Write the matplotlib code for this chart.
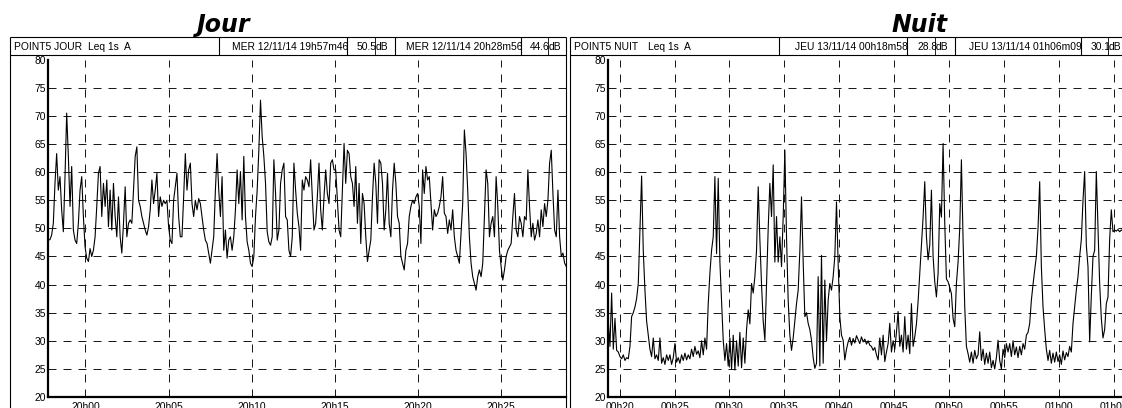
import matplotlib
matplotlib.use("Agg")
import matplotlib.pyplot as plt
import numpy as np
from matplotlib.lines import Line2D

plt.rcParams['font.family'] = ['Liberation Sans', 'DejaVu Sans']

# ---------------- data ----------------
jour_title = "Jour"
nuit_title = "Nuit"
jour_header = ["POINT5 JOUR", "Leq 1s  A", "MER 12/11/14 19h57m46", "50.5", "MER 12/11/14 20h28m56", "44.6"]
nuit_header = ["POINT5 NUIT", "Leq 1s  A", "JEU 13/11/14 00h18m58", "28.8", "JEU 13/11/14 01h06m09", "30.1"]
jour_start, jour_end = "19:57:46", "20:28:56"
nuit_start, nuit_end = "00:18:58", "01:06:09"
jour_ticks = ["20h00", "20h05", "20h10", "20h15", "20h20", "20h25"]
nuit_ticks = ["00h20", "00h25", "00h30", "00h35", "00h40", "00h45", "00h50", "00h55", "01h00", "01h05"]
y_ticks = [20, 25, 30, 35, 40, 45, 50, 55, 60, 65, 70, 75, 80]

jour_db = [
    47.9, 48.0, 48.8, 50.9, 58.0, 63.3, 56.8, 59.2, 53.3, 49.4,
    59.2, 70.5, 62.8, 53.9, 61.0, 49.7, 47.9, 47.3, 50.9, 56.8,
    59.2, 52.1, 46.7, 44.7, 44.1, 46.4, 45.0, 46.1, 48.5, 53.9,
    59.8, 61.0, 52.1, 58.0, 53.9, 58.6, 50.3, 56.8, 49.7, 58.0,
    52.1, 48.5, 55.6, 48.5, 45.6, 50.9, 57.4, 48.5, 50.9, 51.5,
    50.9, 56.8, 62.8, 64.5, 55.0, 53.9, 52.1, 50.9, 49.7, 48.8,
    50.3, 53.3, 58.6, 54.4, 56.8, 59.8, 52.1, 55.6, 53.9, 55.0,
    54.4, 55.0, 50.3, 47.9, 47.3, 55.0, 57.4, 59.8, 52.1, 48.5,
    48.5, 55.6, 63.3, 56.8, 60.4, 61.6, 54.4, 52.1, 55.0, 53.3,
    55.3, 54.4, 52.1, 49.7, 47.9, 47.3, 45.6, 43.8, 46.1, 48.5,
    56.8, 63.3, 56.8, 52.1, 59.2, 46.1, 49.7, 44.7, 47.9, 48.5,
    46.1, 48.5, 53.3, 60.4, 54.4, 60.1, 51.5, 62.8, 52.1, 47.6,
    46.1, 43.8, 43.2, 45.0, 52.1, 56.8, 63.9, 72.8, 66.3, 62.8,
    58.0, 49.4, 47.6, 47.0, 48.5, 62.2, 56.2, 47.9, 49.7, 58.0,
    60.4, 61.6, 52.1, 51.5, 46.1, 45.0, 48.5, 61.6, 56.8, 52.7,
    50.3, 46.1,
    58.6, 56.8, 59.2, 58.6, 57.4, 62.2, 55.6, 49.7, 50.9, 55.6,
    61.6, 53.3, 49.7, 55.6, 60.4, 56.2, 54.4, 61.6, 62.2, 60.4,
    60.4, 55.0, 49.7, 48.5, 56.8, 65.1, 58.0, 63.9, 63.3, 59.2,
    58.0, 53.9, 61.0, 50.9, 58.0, 47.3, 56.2, 54.4, 48.5, 44.1,
    46.1, 47.9, 55.6, 61.6, 58.0, 50.9, 62.2, 61.6, 58.0, 49.7,
    53.3, 59.8, 50.9, 48.5, 56.8, 61.6, 58.0, 52.1, 50.9, 45.0,
    43.8, 42.6, 46.1, 47.3, 52.1, 53.9, 55.0, 54.4, 55.6, 56.2,
    53.9, 47.3, 60.4, 56.2, 61.0, 58.6, 59.2, 54.4, 49.7, 53.3,
    52.1, 52.7, 53.9, 55.6, 59.2, 52.7, 52.1, 49.1, 51.5, 49.7,
    53.3, 48.5, 46.1, 45.0, 43.8, 49.1, 54.4, 67.5, 63.3, 56.8,
    48.5, 43.8, 41.4, 40.2, 39.0, 41.4, 42.6, 41.4, 43.8, 52.1,
    60.4, 58.0, 48.5, 50.9, 52.1, 48.5, 59.2, 53.9, 46.1, 43.2,
    40.8, 42.6, 45.0, 46.1, 46.7, 47.3, 52.1, 56.2, 49.7, 48.5,
    52.1, 50.9, 48.5, 52.1, 51.5, 60.4, 53.9, 48.5, 50.9, 47.9,
    49.1, 51.5, 48.5, 53.3, 50.3, 54.4, 52.1, 55.0, 61.6, 63.9,
    56.2, 49.7, 48.5, 56.8, 48.5, 45.0, 45.6, 43.8, 43.2,
]

nuit_db = [
    33.5, 29.0, 38.5, 28.5, 34.0, 28.3,
    28.0, 27.2, 26.8, 27.5, 26.5, 27.0,
    26.8, 29.0, 34.3, 35.0, 36.0, 37.5,
    40.2, 50.0, 59.3, 46.0, 39.0, 33.5,
    31.0, 28.5, 27.2, 30.5, 26.8, 27.5,
    26.5, 30.5, 26.0, 27.0, 25.8, 27.5,
    26.5, 27.5, 25.8, 27.0, 29.5, 26.2,
    27.0, 26.0, 27.5, 26.5, 27.8, 26.6,
    27.5, 26.8, 28.5, 27.2, 29.0, 27.6,
    28.2, 27.0, 30.0, 27.5, 30.5, 28.5,
    36.6, 42.0, 46.1, 48.5, 59.2, 45.5,
    58.9, 44.0, 37.0, 30.1, 26.5, 29.5,
    25.5, 30.5, 25.0, 31.0, 24.8, 30.0,
    25.5, 31.5, 25.2, 30.5, 26.0, 32.0,
    35.5, 33.0, 40.2, 38.5, 41.4, 46.1,
    57.4, 48.0, 40.0, 33.5, 30.1, 40.0,
    50.0, 58.0, 52.1, 61.3, 44.0, 52.1,
    44.0, 48.5, 43.2, 52.0, 63.9, 48.5,
    37.2, 31.0, 28.3, 30.5, 33.5, 36.6,
    39.0, 46.0, 55.6, 44.0, 34.3, 35.0,
    33.1, 32.0, 30.1, 27.0, 25.1, 26.0,
    41.4, 25.5, 45.2, 26.0, 40.8, 30.0,
    37.2, 40.2, 39.0, 41.4, 45.0, 54.7,
    43.8, 34.3, 31.0, 30.1, 26.6, 28.5,
    29.8, 30.6, 29.2, 30.4, 29.6, 30.9,
    30.2, 29.5, 30.7, 29.8, 30.3, 29.4,
    30.0, 29.2, 29.0, 28.3, 28.8, 27.5,
    26.6, 30.5, 27.5, 31.0, 26.3, 28.0,
    29.5, 33.1, 28.0, 30.0, 28.5, 31.5,
    35.2, 29.0, 31.0, 28.0, 34.3, 28.5,
    31.0, 27.7, 36.6, 29.0, 30.7, 33.0,
    37.0, 42.0, 46.7, 52.0, 58.3, 48.5,
    44.4, 47.0, 56.8, 45.0, 40.5, 37.8,
    42.0, 54.4, 52.0, 65.1, 50.9, 41.0,
    40.5, 39.5, 38.4, 34.0, 32.5, 40.2,
    44.0, 50.0, 62.2, 48.0, 36.0, 29.0,
    27.7, 26.2, 28.0, 26.0, 28.3, 26.8,
    27.5, 31.6, 26.5, 28.5, 25.8, 27.8,
    26.0, 28.0, 25.2, 26.5, 25.0, 27.0,
    30.1, 26.5, 25.0, 28.5, 27.0, 29.5,
    28.0, 29.5, 27.2, 30.0, 27.5, 28.9,
    27.0, 29.0, 27.5, 29.5, 28.5, 31.0,
    31.5, 33.1, 37.2, 40.0, 42.6, 45.0,
    50.0, 58.3, 43.2, 36.0, 32.0, 28.5,
    26.5, 28.3, 26.0, 27.8, 26.2, 28.0,
    26.3, 27.5, 25.8, 28.2, 26.6, 27.9,
    27.2, 29.0, 28.0, 33.1, 36.0, 39.0,
    41.4, 45.0, 48.0, 55.0, 60.1, 47.0,
    43.2, 29.8, 38.0, 45.0, 46.1, 60.1,
    50.0, 40.2, 34.0, 30.5, 32.0, 36.6,
    37.8, 48.0, 53.3, 49.4, 49.7, 49.5,
    49.8, 49.4, 49.7, 49.5, 49.6, 49.5,
]


def hms(s):
    p = [int(v) for v in s.split(":")]
    return p[0] * 3600 + p[1] * 60 + p[2]


def hm_label(s):
    h, m = s.split("h")
    return int(h) * 3600 + int(m) * 60


# ---------------- layout (pixels) ----------------
W, H = 1122, 408
fig = plt.figure(figsize=(W / 100, H / 100), dpi=100)
fig.patch.set_facecolor("white")


def fx(px):
    return px / W


def fy(py):
    return 1 - py / H


def fline(x0, y0, x1, y1, lw=0.8):
    fig.add_artist(Line2D([fx(x0), fx(x1)], [fy(y0), fy(y1)], color="black",
                          lw=lw, solid_capstyle="butt"))


TXT = 7.4


def panel(dx, title, title_x, header, start, end, ticks, values):
    # outer frame and header
    fline(10 + dx, 37, 10 + dx, 430)
    fline(566 + dx, 37, 566 + dx, 430)
    fline(10 + dx, 37, 566 + dx, 37)
    fline(10 + dx, 55, 566 + dx, 55)
    for xs in (219, 347, 395, 521):
        fline(xs + dx, 37, xs + dx, 55)
    for xs in (375, 548):
        fline(xs + dx, 37, xs + dx, 55, lw=0.6)
    ty = fy(46.5)
    fig.text(fx(14 + dx), ty, header[0], fontsize=TXT, va="center", ha="left")
    fig.text(fx(88 + dx), ty, header[1], fontsize=TXT, va="center", ha="left")
    fig.text(fx(348 + dx), ty, header[2], fontsize=TXT, va="center", ha="right")
    fig.text(fx(377 + dx), ty, header[3], fontsize=TXT, va="center", ha="right")
    fig.text(fx(376 + dx), ty, "dB", fontsize=TXT, va="center", ha="left")
    fig.text(fx(522 + dx), ty, header[4], fontsize=TXT, va="center", ha="right")
    fig.text(fx(550 + dx), ty, header[5], fontsize=TXT, va="center", ha="right")
    fig.text(fx(549 + dx), ty, "dB", fontsize=TXT, va="center", ha="left")

    fig.text(fx(title_x), fy(25.0), title, fontsize=17, fontweight="bold",
             style="italic", family="DejaVu Sans", ha="center", va="center")

    # plot area
    x0, x1, ytop, ybot = 48.3 + dx, 566.3 + dx, 59.7, 397.0
    ax = fig.add_axes([fx(x0), fy(ybot), (x1 - x0) / W, (ybot - ytop) / H])
    ax.set_facecolor("none")
    t0, t1 = hms(start), hms(end)
    times = np.linspace(t0, t1, len(values))
    ax.set_xlim(t0, t1)
    ax.set_ylim(20, 80)
    tick_pos = [hm_label(t) for t in ticks]
    for v in y_ticks[1:-1]:
        ax.axhline(v, color="#1a1a1a", lw=0.72, dashes=(8, 7), zorder=1)
    for t in tick_pos:
        ax.axvline(t, color="#1a1a1a", lw=0.72, dashes=(8, 7), zorder=1)
    ax.plot(times, values, color="black", lw=0.8, zorder=3)
    ax.set_yticks(y_ticks)
    ax.set_yticklabels([str(v) for v in y_ticks], fontsize=TXT)
    ax.set_xticks(tick_pos)
    ax.set_xticklabels(ticks, fontsize=TXT)
    ax.tick_params(axis="y", length=0, pad=1.5)
    ax.tick_params(axis="x", length=0, pad=3.5)
    for s in ("top", "right"):
        ax.spines[s].set_visible(False)
    for s in ("left", "bottom"):
        ax.spines[s].set_linewidth(1.6)
        ax.spines[s].set_zorder(4)
    return ax


panel(0, jour_title, 224, jour_header, jour_start, jour_end, jour_ticks, jour_db)
panel(560, nuit_title, 920, nuit_header, nuit_start, nuit_end, nuit_ticks, nuit_db)

fig.savefig("out.png", dpi=100, facecolor="white")
